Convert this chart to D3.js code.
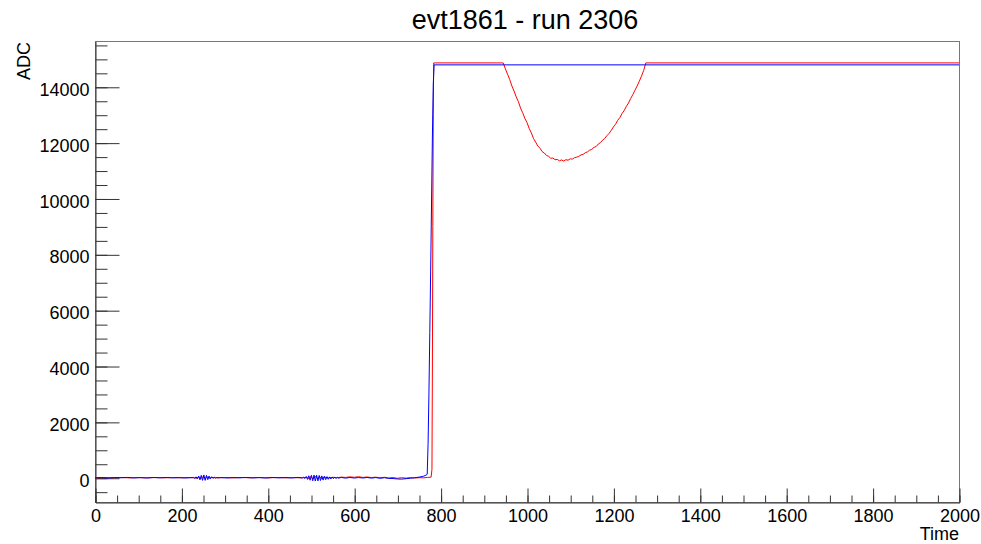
<!DOCTYPE html>
<html>
<head>
<meta charset="utf-8">
<script src="https://cdn.jsdelivr.net/npm/d3@7"></script>
<style>
html,body{margin:0;padding:0;background:#fff;}
svg{display:block;font-family:"Liberation Sans",Arial,Helvetica,sans-serif;}
</style>
</head>
<body>
<svg id="chart" width="981" height="544"></svg>
<script>
// ---- data ----
const chartTitle = "evt1861 - run 2306";
const xLabel = "Time";
const yLabel = "ADC";
const xTicks = [0, 200, 400, 600, 800, 1000, 1200, 1400, 1600, 1800, 2000];
const yTicks = [0, 2000, 4000, 6000, 8000, 10000, 12000, 14000];

const blueTime = [0,15,30,45,60,75,90,105,120,135,150,165,180,195,210,225,
  228,231,234,237,240,243,246,249,252,255,258,261,264,267,270,273,276,279,282,285,
  290,305,320,335,350,365,380,395,410,425,440,455,470,480,
  483,486,489,492,495,498,501,504,507,510,513,516,519,522,525,528,531,534,537,540,543,546,549,552,555,558,561,564,
  570,580,590,600,610,620,630,640,650,660,670,680,690,700,710,720,730,740,750,760,766,769,
  771,773,775,777,779,781,783,785,2000];
const blueADC = [-5,8,-12,6,-3,10,-8,4,-10,7,-4,9,-6,3,-9,5,
  10,-20,30,-45,60,-75,85,-95,100,-95,85,-70,60,-45,35,-25,18,-12,8,-5,
  5,-8,6,-4,9,-7,4,-10,8,-5,6,-9,10,-6,
  15,-30,40,-60,70,-90,85,-110,95,-120,90,-115,80,-100,65,-85,50,-70,40,-55,30,-45,25,-35,20,-25,15,-15,
  10,-15,8,-12,5,-10,8,-15,5,-20,0,-25,-30,-45,-50,-35,-20,0,20,50,90,120,
  1200,3000,5200,7400,9800,12200,14100,14785,14785];

const redTime = [0,20,40,60,80,100,120,140,160,180,200,220,235,240,245,250,255,260,265,270,280,
  300,320,340,360,380,400,420,440,460,480,490,495,500,505,510,515,520,525,530,540,550,560,
  570,580,590,600,610,620,630,640,650,660,670,680,690,700,710,720,730,740,750,760,770,778,
  780,781,782,783,784,
  945,950,955,960,965,970,975,980,985,990,995,1000,1005,1010,1015,1020,1025,1030,1035,1040,
  1045,1050,1055,1060,1065,1070,1075,1080,1085,1090,1095,1100,1105,1110,1115,1120,1125,1130,
  1135,1140,1145,1150,1155,1160,1165,1170,1175,1180,1185,1190,1195,1200,1205,1210,1215,1220,
  1225,1230,1235,1240,1245,1250,1255,1260,1265,1270,1275,2000];
const redADC = [-8,5,-3,8,-6,4,-5,6,-4,5,-3,6,-15,25,-30,35,-30,25,-15,10,-5,
  5,-6,8,-4,6,-5,7,-4,5,-6,20,-30,40,-45,50,-40,35,-25,20,-10,15,-5,
  20,10,30,15,35,10,25,5,20,-5,15,-10,5,-20,0,-15,5,-10,0,-5,10,20,
  300,4000,9000,13000,14855,
  14855,14640,14450,14260,14030,13850,13640,13470,13240,13070,12870,12720,12510,12350,12150,12020,11880,11800,11680,11630,
  11540,11510,11440,11450,11390,11400,11350,11380,11340,11390,11370,11420,11410,11460,11480,11510,11560,11580,
  11640,11670,11730,11760,11830,11860,11950,12000,12090,12150,12250,12330,12440,12560,12660,12800,12900,13040,
  13150,13300,13420,13580,13720,13880,14030,14200,14380,14580,14855,14855];

// ---- layout ----
const svg = d3.select("#chart");
const mLeft = 95, mRight = 959, mTop = 41, mBottom = 502;
const x = d3.scaleLinear().domain([0, 2000]).range([mLeft, mRight]);
const y = d3.scaleLinear().domain([-870, 15640]).range([mBottom, mTop]);

// frame
svg.append("rect").attr("x", mLeft + 0.5).attr("y", mTop + 0.5)
  .attr("width", mRight - mLeft).attr("height", mBottom - mTop)
  .attr("fill", "none").attr("stroke", "#777").attr("stroke-width", 1);

svg.append("defs").append("clipPath").attr("id", "clip")
  .append("rect").attr("x", mLeft).attr("y", mTop).attr("width", mRight - mLeft).attr("height", mBottom - mTop);

// x axis minor
svg.append("g").attr("transform", `translate(0.5,${mBottom + 0.5})`)
  .call(d3.axisBottom(x).tickValues(d3.range(0, 2001, 50)).tickSize(-7).tickSizeOuter(0).tickFormat(""))
  .call(g => g.select(".domain").remove())
  .call(g => g.selectAll("line").attr("stroke", "#333"));
// x axis major
const gx = svg.append("g").attr("transform", `translate(0.5,${mBottom + 0.5})`)
  .call(d3.axisBottom(x).tickValues(xTicks).tickSize(-14).tickSizeOuter(0).tickPadding(7).tickFormat(d3.format("d")));
gx.select(".domain").attr("stroke", "#333");
gx.selectAll("line").attr("stroke", "#333");
gx.selectAll("text").attr("font-size", 18).attr("fill", "#000")
  .attr("font-family", "'Liberation Sans',Arial,sans-serif");

// y axis minor
svg.append("g").attr("transform", `translate(${mLeft + 0.5},0.5)`)
  .call(d3.axisLeft(y).tickValues(d3.range(-500, 15501, 500)).tickSize(-12).tickSizeOuter(0).tickFormat(""))
  .call(g => g.select(".domain").remove())
  .call(g => g.selectAll("line").attr("stroke", "#333"));
// y axis major
const gy = svg.append("g").attr("transform", `translate(${mLeft + 0.5},0.5)`)
  .call(d3.axisLeft(y).tickValues(yTicks).tickSize(-24).tickSizeOuter(0).tickPadding(6).tickFormat(d3.format("d")));
gy.select(".domain").attr("stroke", "#333");
gy.selectAll("line").attr("stroke", "#333");
gy.selectAll("text").attr("font-size", 18).attr("fill", "#000").attr("dy", "0.45em")
  .attr("font-family", "'Liberation Sans',Arial,sans-serif");

// series
const line = d3.line().x(d => x(d[0])).y(d => y(d[1]));
const redData = redTime.map((t, i) => [t, redADC[i]]);
const blueData = blueTime.map((t, i) => [t, blueADC[i]]);
const plot = svg.append("g").attr("clip-path", "url(#clip)");
plot.append("path").datum(redData).attr("d", line)
  .attr("fill", "none").attr("stroke", "#ff0000").attr("stroke-width", 1);
plot.append("path").datum(blueData).attr("d", line)
  .attr("fill", "none").attr("stroke", "#0000ff").attr("stroke-width", 1);

// titles
svg.append("text").attr("x", 525).attr("y", 29).attr("text-anchor", "middle")
  .attr("font-size", 27).attr("fill", "#000").text(chartTitle);
svg.append("text").attr("x", 959).attr("y", 540).attr("text-anchor", "end")
  .attr("font-size", 18).attr("fill", "#000").text(xLabel);
svg.append("text").attr("transform", "translate(30,42) rotate(-90)").attr("text-anchor", "end")
  .attr("font-size", 18).attr("fill", "#000").text(yLabel);
</script>
</body>
</html>
